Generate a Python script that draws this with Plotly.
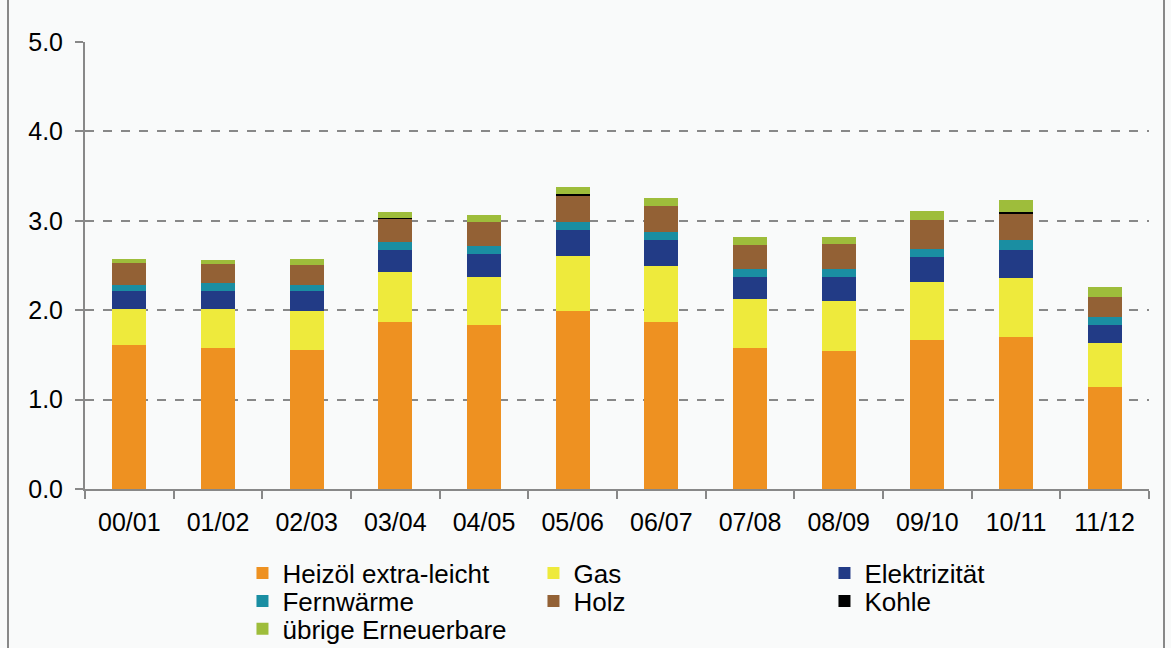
import plotly.graph_objects as go

categories = ["00/01", "01/02", "02/03", "03/04", "04/05", "05/06",
              "06/07", "07/08", "08/09", "09/10", "10/11", "11/12"]
heizoel = [1.61, 1.58, 1.56, 1.87, 1.83, 1.99, 1.87, 1.58, 1.54, 1.67, 1.70, 1.14]
gas = [0.40, 0.43, 0.43, 0.56, 0.54, 0.62, 0.63, 0.54, 0.56, 0.65, 0.66, 0.49]
elektrizitaet = [0.20, 0.21, 0.22, 0.24, 0.26, 0.29, 0.29, 0.25, 0.27, 0.28, 0.31, 0.20]
fernwaerme = [0.07, 0.08, 0.07, 0.09, 0.09, 0.09, 0.09, 0.09, 0.09, 0.09, 0.12, 0.09]
holz = [0.25, 0.22, 0.23, 0.27, 0.27, 0.29, 0.29, 0.27, 0.28, 0.32, 0.29, 0.23]
kohle = [0, 0, 0, 0.006, 0, 0.025, 0, 0, 0, 0, 0.022, 0]
uebrige = [0.04, 0.04, 0.06, 0.06, 0.07, 0.07, 0.09, 0.09, 0.08, 0.10, 0.13, 0.11]

y_ticks = [0, 1, 2, 3, 4, 5]

series = [
    ("Heizöl extra-leicht", heizoel, "#EE9121", "legend"),
    ("Gas", gas, "#EEEA3C", "legend"),
    ("Elektrizität", elektrizitaet, "#223B86", "legend"),
    ("Fernwärme", fernwaerme, "#1A8EA2", "legend2"),
    ("Holz", holz, "#936135", "legend2"),
    ("Kohle", kohle, "#000000", "legend2"),
    ("übrige Erneuerbare", uebrige, "#9EBD3B", "legend3"),
]

fig = go.Figure()
for name, vals, col, lg in series:
    fig.add_trace(go.Bar(x=categories, y=vals, name=name, legend=lg,
                         marker=dict(color=col, line=dict(width=0))))

legend_style = dict(orientation="h", x=0.148, xanchor="left", yanchor="middle",
                    entrywidth=246, entrywidthmode="pixels", traceorder="normal",
                    font=dict(size=26, family="Liberation Sans, Arial, sans-serif"),
                    bgcolor="rgba(0,0,0,0)", itemwidth=30)

fig.update_layout(
    barmode="stack",
    bargap=0.615,
    width=1171, height=648,
    margin=dict(l=85, r=22, t=42, b=159, autoexpand=False),
    paper_bgcolor="#F9FAFA",
    plot_bgcolor="#F9FAFA",
    font=dict(family="Liberation Sans, Arial, sans-serif", size=22, color="#000000"),
    legend=dict(legend_style, y=-0.188),
    legend2=dict(legend_style, y=-0.251),
    legend3=dict(legend_style, y=-0.313),
    xaxis=dict(showline=True, linecolor="#888888", linewidth=2,
               ticks="outside", tickson="boundaries", ticklen=8, tickcolor="#888888",
               tickwidth=2, tickfont=dict(size=25), showgrid=False,
               ticklabelstandoff=10),
    yaxis=dict(range=[0, 5], tickvals=y_ticks, tickformat=".1f",
               showline=True, linecolor="#888888", linewidth=2,
               ticks="outside", ticklen=8, tickcolor="#888888", tickwidth=2,
               showgrid=True, gridcolor="#888888", griddash="dash", gridwidth=1.5,
               tickfont=dict(size=25), zeroline=False, ticklabelstandoff=7),
    shapes=[dict(type="rect", xref="paper", yref="paper",
                 x0=(8 - 85) / 1064, x1=(1164 - 85) / 1064, y0=-0.6, y1=1.3,
                 line=dict(color="#888888", width=2), fillcolor="rgba(0,0,0,0)")],
)

fig.write_html("out.html", config={"displayModeBar": False},
               post_script="document.body.style.margin='0px';")
